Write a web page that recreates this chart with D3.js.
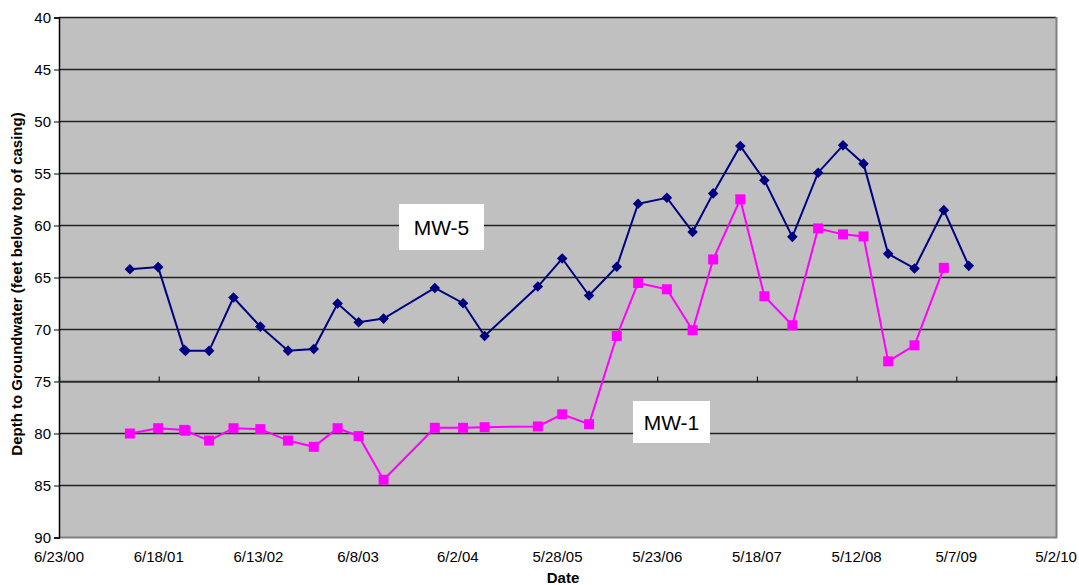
<!DOCTYPE html>
<html><head><meta charset="utf-8">
<script src="https://cdn.jsdelivr.net/npm/d3@7"></script>
<style>body{margin:0;background:#fff;} text{font-family:Arial,"Liberation Sans",sans-serif;}</style>
</head><body>
<svg id="c" width="1079" height="585"></svg>
<script>
const dates = ["2001-03-06","2001-06-16","2001-09-18","2001-09-23","2001-12-17","2002-03-15","2002-06-20","2002-09-28","2002-12-30","2003-03-26","2003-06-10","2003-09-08","2004-03-11","2004-06-21","2004-09-07","2005-03-18","2005-06-14","2005-09-19","2005-12-28","2006-03-15","2006-06-27","2006-09-28","2006-12-11","2007-03-19","2007-06-14","2007-09-23","2007-12-25","2008-03-24","2008-06-06","2008-09-03","2008-12-07","2009-03-23","2009-06-21"];
const mw5 = [64.25,64.05,72.0,72.1,72.1,66.97,69.77,72.08,71.93,67.55,69.35,69.0,66.05,67.52,70.67,65.92,63.22,66.78,64.02,57.96,57.38,60.68,56.96,52.4,55.7,61.14,54.97,52.34,54.1,62.77,64.18,58.57,63.93];
const mw1 = [80.05,79.54,79.7,79.78,80.73,79.54,79.63,80.73,81.33,79.54,80.3,84.5,79.5,79.5,79.44,79.37,78.2,79.15,70.67,65.57,66.18,70.12,63.31,57.53,66.85,69.64,60.33,60.9,61.1,73.11,71.57,64.12,null];
const xTickLabels = ["6/23/00","6/18/01","6/13/02","6/8/03","6/2/04","5/28/05","5/23/06","5/18/07","5/12/08","5/7/09","5/2/10"];
const yTicks = [40,45,50,55,60,65,70,75,80,85,90];

const svg = d3.select("#c");
const L=59, R=1056, T=17, B=537;
const parse = d3.timeParse("%Y-%m-%d");
const t0 = parse("2000-06-23");
const xTickDates = xTickLabels.map((s,i)=>d3.timeDay.offset(t0, i*360));
const x = d3.scaleTime().domain([t0, xTickDates[xTickDates.length-1]]).range([L,R]);
const y = d3.scaleLinear().domain([40,90]).range([T,B]);

svg.append("rect").attr("x",L).attr("y",T).attr("width",R-L).attr("height",B-T).attr("fill","#c0c0c0");
svg.append("g").selectAll("line").data(yTicks.filter(v=>v<90)).join("line")
  .attr("x1",L).attr("x2",R).attr("y1",d=>y(d)+0.5).attr("y2",d=>y(d)+0.5)
  .attr("stroke","#222").attr("stroke-width",1.3);
svg.append("line").attr("x1",R+0.5).attr("x2",R+0.5).attr("y1",T).attr("y2",B+1).attr("stroke","#808080").attr("stroke-width",2);
svg.append("line").attr("x1",L).attr("x2",R+1).attr("y1",B+0.5).attr("y2",B+0.5).attr("stroke","#808080").attr("stroke-width",2);

const yAxis = d3.axisLeft(y).tickValues(yTicks).tickSize(5).tickPadding(3);
const gy = svg.append("g").attr("transform",`translate(${L},0.5)`).call(yAxis);
gy.select(".domain").attr("stroke","#000").attr("stroke-width",1.5);
gy.selectAll(".tick line").attr("stroke","#000");
gy.selectAll("text").attr("font-size",15).attr("fill","#000").attr("font-family","Arial, 'Liberation Sans', sans-serif");

const xAxis = d3.axisTop(x).tickValues(xTickDates).tickSize(5).tickFormat("");
const gx = svg.append("g").attr("transform",`translate(0,${y(75)+0.5})`).call(xAxis);
gx.select(".domain").attr("stroke","#333").attr("stroke-width",1.5);
gx.selectAll(".tick line").attr("stroke","#000");
svg.append("g").selectAll("text").data(xTickDates).join("text")
  .attr("x",d=>x(d)).attr("y",562).attr("text-anchor","middle").attr("font-size",15).attr("fill","#000")
  .text((d,i)=>xTickLabels[i]);

const pts5 = dates.map((d,i)=>({d:parse(d),v:mw5[i]}));
const pts1 = dates.map((d,i)=>({d:parse(d),v:mw1[i]})).filter(p=>p.v!=null);
const line = d3.line().x(p=>x(p.d)).y(p=>y(p.v));
svg.append("path").datum(pts5).attr("d",line).attr("fill","none").attr("stroke","#000080").attr("stroke-width",2);
svg.append("path").datum(pts1).attr("d",line).attr("fill","none").attr("stroke","#ff00ff").attr("stroke-width",2);
svg.append("g").selectAll("path").data(pts5).join("path")
  .attr("d",d3.symbol(d3.symbolSquare, 56))
  .attr("transform",p=>`translate(${x(p.d)},${y(p.v)}) rotate(45)`).attr("fill","#000080");
svg.append("g").selectAll("rect").data(pts1).join("rect")
  .attr("x",p=>x(p.d)-5).attr("y",p=>y(p.v)-5).attr("width",10).attr("height",10).attr("fill","#ff00ff");

function boxLabel(bx,by,w,h,base,txt){
  svg.append("rect").attr("x",bx).attr("y",by).attr("width",w).attr("height",h).attr("fill","#fff");
  svg.append("text").attr("x",bx+w/2).attr("y",base).attr("text-anchor","middle").attr("font-size",21).attr("fill","#000").text(txt);
}
boxLabel(399,204,85,46,235,"MW-5");
boxLabel(633,401,77,42,429.5,"MW-1");

svg.append("text").attr("transform","translate(22,284) rotate(-90)").attr("text-anchor","middle")
  .attr("font-size",15).attr("font-weight","bold").text("Depth to Groundwater (feet below top of casing)");
svg.append("text").attr("x",563).attr("y",583).attr("text-anchor","middle").attr("font-size",15).attr("font-weight","bold").text("Date");
</script>
</body></html>
